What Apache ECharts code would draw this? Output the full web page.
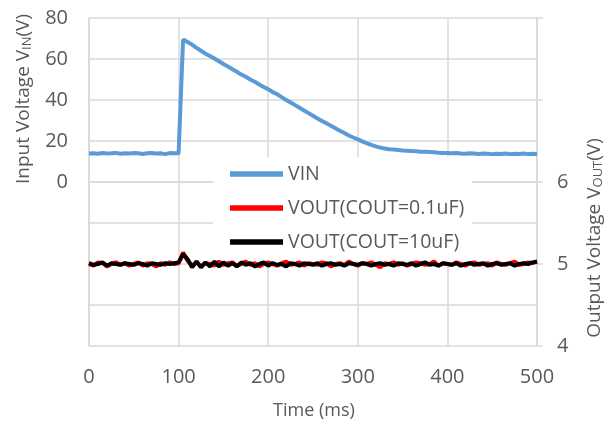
<!DOCTYPE html>
<html>
<head>
<meta charset="utf-8">
<script src="https://cdn.jsdelivr.net/npm/echarts@6/dist/echarts.min.js"></script>
<style>
  html, body { margin: 0; padding: 0; background: #fff; }
  #chart { width: 614px; height: 428px; }
</style>
</head>
<body>
<div id="chart"></div>
<script>
// sampled every 5 ms, 0..500 ms
const sampleStep = 5;
const xTicks = [0, 100, 200, 300, 400, 500];
const leftTicks = [0, 20, 40, 60, 80];
const rightTicks = [4, 5, 6];

const vin = [
  13.9, 14.0, 13.8, 14.1, 13.9, 14.0, 14.2, 13.8, 14.0, 13.9,
  14.1, 14.0, 13.7, 14.0, 14.1, 13.9, 14.0, 13.6, 14.1, 14.0,
  14.0, 69.5, 68.3, 67.0, 65.4, 64.0, 62.6, 61.5, 60.2, 58.9,
  57.6, 56.4, 55.0, 53.8, 52.4, 51.3, 50.0, 48.9, 47.6, 46.4,
  45.2, 43.9, 42.8, 41.4, 40.0, 38.8, 37.5, 36.2, 34.9, 33.6,
  32.3, 31.0, 29.8, 28.6, 27.4, 26.2, 25.0, 23.9, 22.7, 21.7,
  20.8, 19.8, 18.9, 18.1, 17.4, 16.8, 16.3, 16.0, 15.8, 15.6,
  15.4, 15.3, 15.1, 15.0, 14.8, 14.7, 14.6, 14.5, 14.3, 14.2,
  14.1, 14.0, 14.1, 13.9, 13.8, 14.0, 13.9, 13.7, 13.9, 13.8,
  13.6, 13.8, 13.7, 13.9, 13.6, 13.8, 13.7, 13.9, 13.6, 13.8,
  13.7
];

const voutSmallCap = [
  5.00, 4.98, 5.02, 5.01, 4.97, 5.00, 5.02, 4.99, 5.01, 4.98,
  5.00, 5.02, 4.98, 5.01, 5.00, 4.97, 5.01, 4.99, 5.02, 5.00,
  5.01, 5.14, 5.04, 4.98, 5.02, 4.97, 5.01, 5.00, 4.98, 5.03,
  4.99, 5.01, 5.02, 4.98, 5.00, 5.03, 4.99, 5.01, 4.97, 5.00,
  5.02, 5.00, 4.98, 5.01, 5.03, 4.99, 5.00, 5.02, 4.98, 5.01,
  5.00, 4.99, 5.02, 5.01, 4.97, 5.00, 5.01, 4.99, 5.03, 5.00,
  4.98, 5.01, 5.00, 5.02, 4.99, 4.96, 5.01, 5.00, 5.02, 4.99,
  5.01, 4.98, 5.00, 5.02, 5.01, 4.99, 5.00, 5.03, 4.98, 5.01,
  5.00, 4.99, 5.02, 5.00, 4.98, 5.01, 5.02, 4.99, 5.00, 5.01,
  4.98, 5.02, 5.00, 4.99, 5.01, 5.03, 4.99, 5.00, 5.02, 5.01,
  5.03
];

const voutBigCap = [
  5.01, 4.99, 5.00, 5.02, 4.98, 5.01, 5.00, 4.99, 5.01, 5.00,
  4.99, 5.01, 5.00, 4.98, 5.01, 5.00, 4.99, 5.01, 5.00, 5.01,
  5.02, 5.12, 5.06, 4.96, 5.03, 4.96, 5.02, 4.97, 5.03, 4.97,
  5.02, 4.98, 5.01, 4.97, 5.02, 4.99, 5.01, 4.97, 5.00, 5.02,
  4.98, 5.01, 4.99, 5.00, 4.97, 5.01, 5.00, 4.98, 5.01, 5.00,
  4.99, 5.01, 4.98, 5.00, 5.01, 4.99, 5.00, 4.98, 5.01, 5.00,
  4.99, 5.01, 5.00, 4.98, 5.00, 5.01, 4.99, 5.00, 4.98, 5.01,
  5.00, 4.99, 5.01, 4.98, 5.00, 5.02, 4.99, 5.00, 4.98, 5.01,
  5.00, 4.99, 5.01, 4.98, 5.00, 5.01, 4.99, 5.00, 5.01, 4.98,
  5.00, 5.01, 4.99, 5.00, 5.01, 4.98, 5.00, 5.01, 5.00, 5.02,
  5.03
];

const seriesNames = ['VIN', 'VOUT(COUT=0.1uF)', 'VOUT(COUT=10uF)'];

function pairs(arr) {
  return arr.map((v, i) => [i * sampleStep, v]);
}

const font = '"Open Sans", Lato, sans-serif';
const textGray = '#595959';
const gridGray = '#d9d9d9';

var chart = echarts.init(document.getElementById('chart'));
chart.setOption({
  animation: false,
  textStyle: { fontFamily: font },
  grid: { left: 89, right: 77, top: 18, bottom: 82 },
  legend: {
    data: seriesNames,
    orient: 'vertical',
    left: 213,
    top: 157,
    padding: [7, 8, 9, 17],
    itemGap: 14,
    itemWidth: 53,
    itemHeight: 14,
    backgroundColor: '#fff',
    icon: 'path://M0,0 L10,0 L10,1 L0,1 Z',
    textStyle: { fontSize: 19.5, lineHeight: 19, color: textGray, fontFamily: font }
  },
  xAxis: {
    type: 'value',
    min: 0, max: 500, interval: 100,
    axisLine: { show: true, lineStyle: { color: gridGray, width: 1.5 } },
    axisTick: { show: false },
    axisLabel: { fontSize: 20, color: textGray, margin: 21,
      formatter: v => xTicks.indexOf(v) >= 0 ? String(v) : '' },
    splitLine: { show: true, lineStyle: { color: gridGray, width: 1.5 } }
  },
  yAxis: [
    {
      type: 'value',
      min: -80, max: 80, interval: 20,
      axisLine: { show: true, lineStyle: { color: gridGray, width: 1.5 } },
      axisTick: { show: false },
      axisLabel: { fontSize: 20, color: textGray, margin: 21,
        formatter: v => leftTicks.indexOf(v) >= 0 ? String(v) : '' },
      splitLine: { show: true, lineStyle: { color: gridGray, width: 1.5 } }
    },
    {
      type: 'value',
      position: 'right',
      min: 4, max: 8, interval: 1,
      axisLine: { show: true, lineStyle: { color: gridGray, width: 1.5 } },
      axisTick: { show: true, length: 6, lineStyle: { color: gridGray, width: 1.5 } },
      axisLabel: { fontSize: 20, color: textGray, margin: 20,
        formatter: v => rightTicks.indexOf(v) >= 0 ? String(v) : '' },
      splitLine: { show: false }
    }
  ],
  graphic: [
    {
      type: 'text', x: 24, y: 99, rotation: Math.PI / 2,
      style: {
        text: 'Input Voltage V{s|IN}(V)',
        font: '19px ' + font, fill: textGray,
        align: 'center', verticalAlign: 'middle',
        rich: { s: { fontSize: 13, fill: textGray, fontFamily: font, verticalAlign: 'bottom' } }
      }
    },
    {
      type: 'text', x: 595, y: 238, rotation: Math.PI / 2,
      style: {
        text: 'Output Voltage V{s|OUT}(V)',
        font: '19px ' + font, fill: textGray,
        align: 'center', verticalAlign: 'middle',
        rich: { s: { fontSize: 13, fill: textGray, fontFamily: font, verticalAlign: 'bottom' } }
      }
    },
    {
      type: 'text', x: 314, y: 411,
      style: {
        text: 'Time (ms)', font: '18px ' + font, fill: textGray,
        align: 'center', verticalAlign: 'middle'
      }
    }
  ],
  series: [
    {
      name: seriesNames[0], type: 'line', yAxisIndex: 0,
      data: pairs(vin), showSymbol: false, z: 3,
      lineStyle: { color: '#5B9BD5', width: 4 }, itemStyle: { color: '#5B9BD5' }
    },
    {
      name: seriesNames[1], type: 'line', yAxisIndex: 1,
      data: pairs(voutSmallCap), showSymbol: false, z: 4,
      lineStyle: { color: '#ff0000', width: 4 }, itemStyle: { color: '#ff0000' }
    },
    {
      name: seriesNames[2], type: 'line', yAxisIndex: 1,
      data: pairs(voutBigCap), showSymbol: false, z: 5,
      lineStyle: { color: '#000000', width: 4 }, itemStyle: { color: '#000000' }
    }
  ]
});
</script>
</body>
</html>
